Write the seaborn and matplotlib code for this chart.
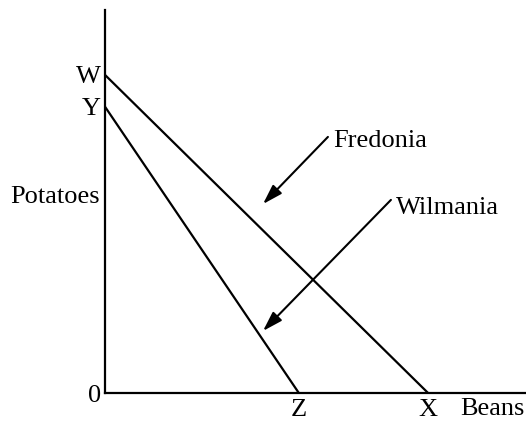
import pandas as pd
import numpy as np
import matplotlib
matplotlib.use("Agg")
import matplotlib.pyplot as plt
import seaborn as sns

# production possibility frontiers (beans on x, potatoes on y)
countries = ["Fredonia", "Wilmania"]
beans_max = [100, 60]      # X, Z
potatoes_max = [100, 90]   # W, Y
x_ticks = [60, 100]
x_labels = ["Z", "X"]
y_ticks = [0, 90, 100]
y_labels = ["0", "Y", "W"]

rows = []
for c, b, p in zip(countries, beans_max, potatoes_max):
    rows.append({"country": c, "beans": 0, "potatoes": p})
    rows.append({"country": c, "beans": b, "potatoes": 0})
data = pd.DataFrame(rows)

sns.set_style("white")
plt.rcParams["font.family"] = ["Liberation Serif", "DejaVu Serif"]
plt.rcParams["text.color"] = "black"
plt.rcParams["xtick.color"] = "black"
plt.rcParams["ytick.color"] = "black"

fs = 19

fig = plt.figure(figsize=(5.26, 4.21), dpi=100)
ax = fig.add_axes([105/526, 28/421, 420/526, 383/421])

sns.lineplot(data=data, x="beans", y="potatoes", hue="country",
             palette=["black", "black"], linewidth=1.6, legend=False, ax=ax)

ax.set_xlim(0, 130)
ax.set_ylim(0, 120.4)
sns.despine(ax=ax)
for s in ["left", "bottom"]:
    ax.spines[s].set_linewidth(1.6)
    ax.spines[s].set_color("black")

ax.set_xticks(x_ticks)
ax.set_xticklabels(x_labels, fontsize=fs)
ax.set_yticks(y_ticks)
ax.set_yticklabels(y_labels, fontsize=fs)
ax.tick_params(axis="x", length=0, pad=4)
ax.tick_params(axis="y", length=0, pad=3)
ax.set_xlabel("")
ax.set_ylabel("")

ax.text(-1.5, 61.6, "Potatoes", fontsize=fs, ha="right", va="center")
ax.text(109.9, -6.9, "Beans", fontsize=fs, ha="left", va="baseline",
        clip_on=False)

arrow = dict(arrowstyle="-|>,head_length=0.8,head_width=0.25", lw=1.5,
             color="black", shrinkA=0, shrinkB=0, mutation_scale=15)
ax.annotate("", xy=(48.9, 59.4), xytext=(69.0, 80.5), arrowprops=arrow)
ax.text(70.5, 79.2, "Fredonia", fontsize=fs, ha="left", va="center")
ax.annotate("", xy=(48.9, 19.5), xytext=(88.5, 60.7), arrowprops=arrow)
ax.text(90.0, 58.2, "Wilmania", fontsize=fs, ha="left", va="center")

fig.savefig("out.png", dpi=100)
